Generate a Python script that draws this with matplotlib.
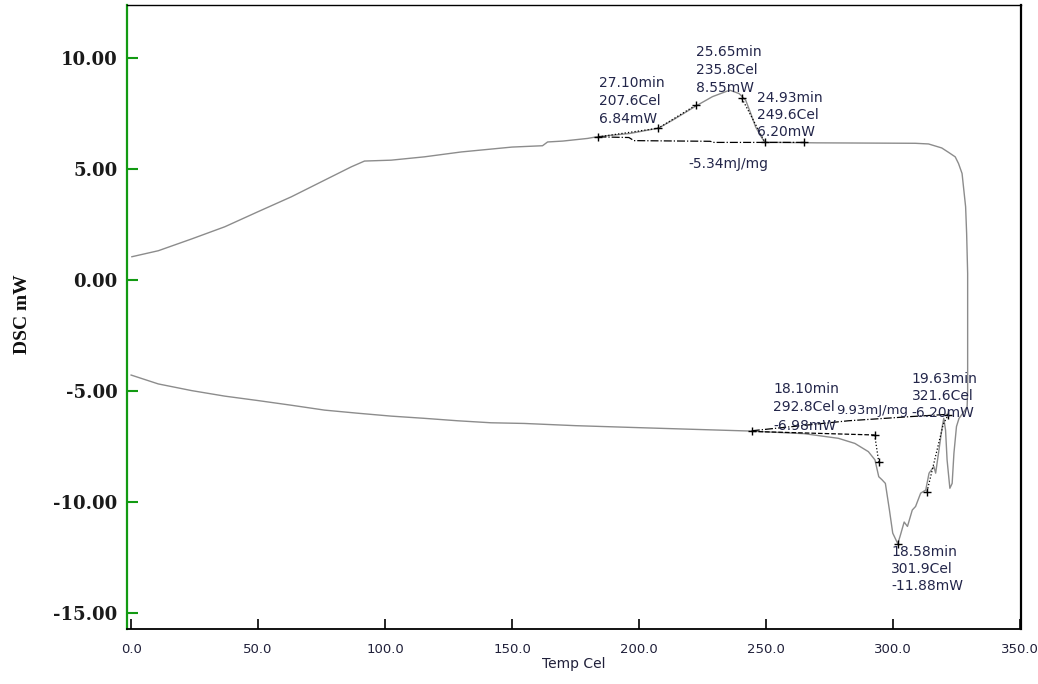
import matplotlib
matplotlib.use("Agg")
import matplotlib.pyplot as plt
from matplotlib.ticker import FixedLocator, FormatStrFormatter

plt.rcParams['axes.unicode_minus'] = False

# ---------------- data ----------------
# heating run (lower curve)
heat_T = [0.0, 10.7, 23.8, 36.9, 50.0, 63.1, 76.2, 89.3, 102.4, 115.5, 128.6, 141.7,
          154.7, 175.0, 200.0, 220.0, 243.0, 265.0, 278.5, 285.0, 290.3, 292.9, 294.4,
          295.7, 297.0, 298.6, 299.9, 301.9, 302.9, 304.4, 305.7, 307.6, 308.9, 310.9,
          312.9, 314.2, 316.1, 316.8, 318.1, 319.4, 320.0, 320.7, 321.3, 322.4, 323.3,
          324.0, 325.0, 326.0, 327.0, 328.4, 329.2]
heat_mW = [-4.28, -4.68, -4.98, -5.23, -5.43, -5.64, -5.86, -6.00, -6.13, -6.23, -6.34, -6.43,
           -6.46, -6.56, -6.65, -6.72, -6.80, -6.92, -7.13, -7.36, -7.73, -8.10, -8.86,
           -9.00, -9.16, -10.36, -11.40, -11.88, -11.50, -10.90, -11.10, -10.36, -10.20, -9.60,
           -9.46, -8.70, -8.40, -8.70, -7.66, -6.60, -6.23, -6.76, -8.10, -9.38, -9.16,
           -7.80, -6.60, -6.23, -6.08, -5.86, -5.70]

# cooling run (upper curve)
cool_T = [329.4, 329.4, 329.0, 328.6, 327.9, 327.2, 325.8, 324.5, 321.9, 319.2, 314.0,
          308.8, 290.0, 270.0, 255.0, 249.6, 248.5, 245.9, 244.0, 242.0, 239.4, 235.8,
          234.2, 228.9, 222.4, 213.2, 207.6, 196.2, 183.7, 179.8, 170.0, 164.0, 162.0,
          150.0, 140.0, 130.0, 115.5, 102.4, 91.9, 86.7, 76.2, 63.1, 50.0, 36.9, 23.8,
          10.7, 0.3]
cool_mW = [-5.00, 0.30, 2.10, 3.30, 4.05, 4.80, 5.25, 5.55, 5.75, 5.95, 6.13,
           6.16, 6.17, 6.18, 6.20, 6.20, 6.38, 6.90, 7.50, 8.10, 8.40, 8.55,
           8.49, 8.26, 7.84, 7.20, 6.84, 6.60, 6.46, 6.38, 6.26, 6.22, 6.05,
           5.99, 5.88, 5.77, 5.55, 5.40, 5.36, 5.10, 4.50, 3.75, 3.08, 2.40, 1.85,
           1.32, 1.05]

# analysis lines (crystallisation peak)
cryst_base_T = [184.0, 196.0, 198.0, 228.0, 229.5, 265.0]
cryst_base_mW = [6.45, 6.42, 6.28, 6.25, 6.20, 6.20]
cryst_tan1_T = [184.0, 207.6, 222.4]
cryst_tan1_mW = [6.45, 6.84, 7.88]
cryst_tan2_T = [240.5, 249.6]
cryst_tan2_mW = [8.18, 6.20]
cryst_mark_T = [184.0, 207.6, 222.4, 240.5, 249.6, 265.0]
cryst_mark_mW = [6.45, 6.84, 7.88, 8.18, 6.20, 6.20]

# analysis lines (melting peak)
melt_base_T = [244.4, 282.4, 307.2, 321.6]
melt_base_mW = [-6.79, -6.34, -6.15, -6.05]
melt_tan1_T = [244.4, 292.8]
melt_tan1_mW = [-6.82, -6.98]
melt_tan2_T = [292.8, 294.4]
melt_tan2_mW = [-6.98, -8.20]
melt_tan3_T = [313.4, 319.8, 321.6]
melt_tan3_mW = [-9.53, -6.50, -6.10]
melt_mark_T = [244.4, 292.8, 294.4, 301.9, 313.4, 321.6]
melt_mark_mW = [-6.79, -6.98, -8.20, -11.88, -9.53, -6.10]

x_ticks = [0.0, 50.0, 100.0, 150.0, 200.0, 250.0, 300.0, 350.0]
y_ticks = [-15.0, -10.0, -5.0, 0.0, 5.0, 10.0]

# (text lines, left T, top-line mW, line step mW, font size)
labels = [
    (["27.10min", "207.6Cel", "6.84mW"], 184.2, 8.87, 0.81, 10),
    (["25.65min", "235.8Cel", "8.55mW"], 222.3, 10.28, 0.82, 10),
    (["24.93min", "249.6Cel", "6.20mW"], 246.3, 8.20, 0.77, 10),
    (["-5.34mJ/mg"], 219.6, 5.23, 0.8, 10),
    (["18.10min", "292.8Cel", "-6.98mW"], 252.9, -4.91, 0.83, 10),
    (["19.63min", "321.6Cel", "-6.20mW"], 307.3, -4.46, 0.77, 10),
    (["9.93mJ/mg"], 277.8, -5.86, 0.8, 9.5),
    (["18.58min", "301.9Cel", "-11.88mW"], 299.3, -12.25, 0.77, 10),
]

# ---------------- figure ----------------
fig = plt.figure(figsize=(10.38, 6.84), dpi=100)
ax = fig.add_axes([0.1224, 0.0804, 0.9836 - 0.1224, 0.9927 - 0.0804])

ax.plot(heat_T + cool_T, heat_mW + cool_mW, color='#8c8c8c', lw=1.0)

k = dict(color='black', lw=0.9)
ax.plot(cryst_base_T, cryst_base_mW, ls='-.', **k)
ax.plot(cryst_tan1_T, cryst_tan1_mW, ls=':', **k)
ax.plot(cryst_tan2_T, cryst_tan2_mW, ls=':', **k)
ax.plot(melt_base_T, melt_base_mW, ls='-.', **k)
ax.plot(melt_tan1_T, melt_tan1_mW, ls='--', **k)
ax.plot(melt_tan2_T, melt_tan2_mW, ls=':', **k)
ax.plot(melt_tan3_T, melt_tan3_mW, ls=':', **k)
ax.plot(cryst_mark_T, cryst_mark_mW, ls='none', marker='+', ms=6, mew=1.0, color='black')
ax.plot(melt_mark_T, melt_mark_mW, ls='none', marker='+', ms=6, mew=1.0, color='black')

for lines, tx, ty, step, fs in labels:
    for i, s in enumerate(lines):
        ax.text(tx, ty - i * step, s, fontsize=fs, family='DejaVu Sans',
                color='#23264a', ha='left', va='center')

ax.set_xlim(-1.6, 350.4)
ax.set_ylim(-15.72, 12.39)

ax.xaxis.set_major_locator(FixedLocator(x_ticks))
ax.xaxis.set_major_formatter(FormatStrFormatter('%.1f'))
ax.yaxis.set_major_locator(FixedLocator(y_ticks))
ax.yaxis.set_major_formatter(FormatStrFormatter('%.2f'))

ax.tick_params(axis='x', direction='in', length=7, width=1.2, color='black',
               pad=10, labelsize=9.5, labelcolor='#20203a', top=False)
ax.tick_params(axis='y', direction='in', length=8, width=1.5, color='#129a12',
               pad=7, labelsize=13, right=False)
for lab in ax.get_yticklabels():
    lab.set_family('DejaVu Serif')
    lab.set_fontweight('bold')
    lab.set_color('#1a1a1a')

ax.spines['left'].set_color('#129a12')
ax.spines['left'].set_linewidth(1.6)
ax.spines['bottom'].set_linewidth(1.3)
ax.spines['right'].set_linewidth(1.6)
ax.spines['top'].set_linewidth(1.0)

ax.set_xlabel('Temp Cel', fontsize=10, family='DejaVu Sans', color='#20203a', labelpad=1)
fig.text(0.022, 0.54, 'DSC mW', rotation=90, ha='center', va='center',
         fontsize=14, family='Liberation Serif', fontweight='bold', color='#111111')

fig.savefig('out.png', dpi=100)
